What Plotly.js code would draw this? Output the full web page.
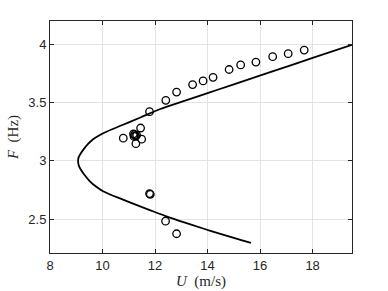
<!DOCTYPE html>
<html>
<head>
<meta charset="utf-8">
<script src="https://cdn.plot.ly/plotly-3.0.1.min.js"></script>
<style>html,body{margin:0;padding:0;background:#fff;}#chart{width:388px;height:291px;}</style>
</head>
<body>
<div id="chart"></div>
<script>
// Model curve (U in m/s, F in Hz)
var curveU = [19.5, 18.0, 16.5, 15.0, 14.0, 13.0, 12.2, 11.42, 10.78, 10.15, 9.9, 9.64, 9.45, 9.3, 9.16, 9.09, 9.07, 9.09, 9.16, 9.28, 9.52, 9.75, 10.02, 10.78, 11.8, 12.4, 13.2, 14.08, 15.0, 15.65];
var curveF = [3.996, 3.883, 3.77, 3.657, 3.581, 3.506, 3.445, 3.37, 3.31, 3.25, 3.222, 3.185, 3.145, 3.105, 3.06, 3.03, 3.0, 2.965, 2.93, 2.89, 2.825, 2.78, 2.74, 2.668, 2.578, 2.527, 2.466, 2.402, 2.339, 2.297];

// Measured points
var measU = [10.79, 11.18, 11.22, 11.26, 11.20, 11.30, 11.45, 11.27, 11.49, 11.79, 12.41, 12.82, 13.43, 13.83, 14.21, 14.82, 15.26, 15.84, 16.48, 17.07, 17.68, 11.79, 11.82, 12.40, 12.82];
var measF = [3.195, 3.232, 3.225, 3.215, 3.21, 3.22, 3.282, 3.148, 3.186, 3.422, 3.52, 3.59, 3.655, 3.686, 3.717, 3.784, 3.823, 3.848, 3.894, 3.92, 3.951, 2.72, 2.713, 2.483, 2.375];

var xTicks = [8, 10, 12, 14, 16, 18];
var yTicks = [2.5, 3, 3.5, 4];

var axisCommon = {
  showline: true, linecolor: '#262626', linewidth: 1, mirror: 'allticks',
  ticks: 'inside', ticklen: 4, tickwidth: 1, tickcolor: '#262626',
  showgrid: true, gridcolor: '#e3e3e3', gridwidth: 1, zeroline: false,
  tickfont: {family: 'Liberation Sans, Arial, sans-serif', size: 13, color: '#262626'},
  automargin: false
};

var data = [
  {x: curveU, y: curveF, mode: 'lines', type: 'scatter',
   line: {color: '#000000', width: 1.8, shape: 'spline', smoothing: 1}, hoverinfo: 'skip'},
  {x: measU, y: measF, mode: 'markers', type: 'scatter',
   marker: {symbol: 'circle-open', size: 7.5, color: '#000000', line: {width: 1.3, color: '#000000'}}}
];

var layout = {
  width: 388, height: 291,
  margin: {l: 50, r: 36, t: 21, b: 38, pad: 0},
  paper_bgcolor: '#ffffff', plot_bgcolor: '#ffffff',
  showlegend: false,
  xaxis: Object.assign({}, axisCommon, {
    range: [8, 19.5], tickvals: xTicks, ticktext: xTicks.map(String),
    title: {text: '<i>U</i>\u00a0\u00a0(m/s)', font: {family: 'Liberation Serif, Times New Roman, serif', size: 15, color: '#262626'}, standoff: 1}
  }),
  yaxis: Object.assign({}, axisCommon, {
    range: [2.21, 4.2], tickvals: yTicks, ticktext: ['2.5', '3', '3.5', '4'],
    title: {text: '<i>F</i>\u00a0\u00a0(Hz)', font: {family: 'Liberation Serif, Times New Roman, serif', size: 15, color: '#262626'}, standoff: 6}
  })
};

Plotly.newPlot('chart', data, layout, {displayModeBar: false, staticPlot: true});
</script>
</body>
</html>
